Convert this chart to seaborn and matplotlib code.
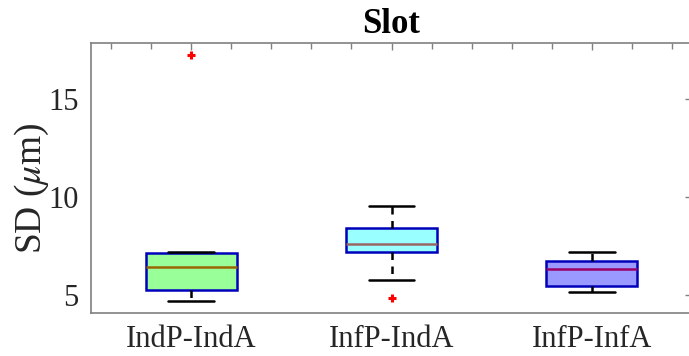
import numpy as np
import pandas as pd
import matplotlib
matplotlib.use("Agg")
import matplotlib.pyplot as plt
from matplotlib.ticker import MultipleLocator
import seaborn as sns

groups = ['IndP-IndA', 'InfP-IndA', 'InfP-InfA']
sd_indp_inda = [4.71, 5.00, 5.26, 5.90, 6.45, 6.90, 7.15, 7.21, 17.28]
sd_infp_inda = [4.83, 5.77, 7.18, 7.35, 7.59, 8.00, 8.44, 9.00, 9.56]
sd_infp_infa = [5.14, 5.30, 5.46, 5.90, 6.33, 6.55, 6.74, 6.95, 7.20]

fills = ['#99FF99', '#99FFFF', '#9999FF']
medians = ['#996600', '#996666', '#990066']

df = pd.DataFrame({
    'group': np.repeat(groups, [len(sd_indp_inda), len(sd_infp_inda), len(sd_infp_infa)]),
    'sd': sd_indp_inda + sd_infp_inda + sd_infp_infa,
})

sns.set_style('white')
plt.rcParams['font.family'] = ['Liberation Serif', 'DejaVu Serif']
plt.rcParams['mathtext.fontset'] = 'stix'

fig = plt.figure(figsize=(6.89, 3.56), dpi=100)
ax = fig.add_axes([91 / 689, 1 - 312.5 / 356, 601 / 689, 270 / 356])

sns.boxplot(data=df, x='group', y='sd', hue='group', palette=fills, legend=False,
            saturation=1, width=0.455, linewidth=1.8, linecolor='#0000BB', ax=ax,
            whiskerprops=dict(color='black', linestyle=(0, (3, 2.6)), linewidth=1.8),
            capprops=dict(color='black', linewidth=1.8),
            flierprops=dict(marker='+', markeredgecolor='red', markersize=6, markeredgewidth=2.2),
            boxprops=dict(edgecolor='#0000BB'))

# median lines: same width as the box, not black
for line in ax.lines:
    x = line.get_xdata()
    y = line.get_ydata()
    if len(y) == 2 and y[0] == y[1] and line.get_color() not in ('black', 'k'):
        if abs((x[1] - x[0]) - 0.455) < 0.01:
            line.set_color(medians[int(round(np.mean(x)))])
            line.set_linewidth(1.8)

ax.set_xlim(-0.5, 2.5)
ax.set_ylim(4.1, 17.9)
ax.set_yticks([5, 10, 15])
ax.yaxis.set_minor_locator(MultipleLocator(1))
ax.xaxis.set_minor_locator(MultipleLocator(0.2))
ax.tick_params(which='both', direction='in', top=True, right=True, colors='#808080',
               labelcolor='#262626', labelsize=22, width=1)
ax.tick_params(which='major', length=5, pad=9)
ax.tick_params(which='minor', length=4)
ax.tick_params(axis='y', which='minor', right=False)
for s in ax.spines.values():
    s.set_color('#808080')
    s.set_linewidth(1.2)

ax.set_xlabel('')
ax.set_ylabel(r'SD ($\mu$m)', fontsize=27, color='#262626')
ax.yaxis.set_label_coords(-0.067, 0.46)
ax.set_title('Slot', fontsize=25, fontweight='bold', color='black', pad=7)

fig.savefig('out.png', dpi=100)
